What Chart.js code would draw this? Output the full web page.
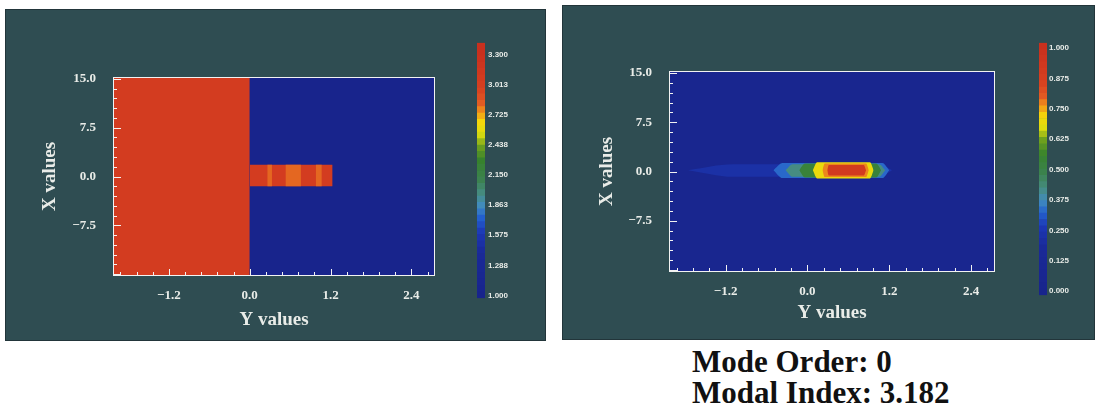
<!DOCTYPE html>
<html>
<head>
<meta charset="utf-8">
<script src="https://cdn.jsdelivr.net/npm/chart.js@4.4.1/dist/chart.umd.min.js"></script>
<style>
  body { margin: 0; background: #fff; width: 1097px; height: 419px; position: relative; overflow: hidden; }
  .panel { position: absolute; background: #2f4d52; border: 1px solid #22353a; box-sizing: border-box; }
  canvas { position: absolute; }
  .note { position: absolute; left: 692px; font: bold 31px "Liberation Serif", serif; line-height: 31px; color: #111; white-space: nowrap; }
</style>
</head>
<body>
<div class="panel" style="left:5px;top:9px;width:541px;height:332px"></div>
<div class="panel" style="left:562px;top:5px;width:533px;height:335px"></div>
<canvas id="indexMap" width="450" height="332" style="left:5px;top:9px"></canvas>
<canvas id="indexBar" width="60" height="271" style="left:477px;top:35px"></canvas>
<canvas id="modeMap" width="450" height="335" style="left:562px;top:5px"></canvas>
<canvas id="modeBar" width="55" height="266" style="left:1039px;top:36px"></canvas>
<div class="note" style="top:346px">Mode Order: 0</div>
<div class="note" style="top:377px">Modal Index: 3.182</div>

<script>
// axes (the horizontal axis is titled "Y values" in the figure)
const yValueRange = [-2.03, 2.75];
const yValueTicks = [-1.2, 0.0, 1.2, 2.4];
const yValueLabels = ["\u22121.2", "0.0", "1.2", "2.4"];
const xValueRange = [-15.3, 15.3];
const xValueTicks = [-7.5, 0.0, 7.5, 15.0];
const xValueLabels = ["\u22127.5", "0.0", "7.5", "15.0"];

// left panel: index profile as rectangles
const indexY0 = [-2.03, -2.03, 0.00, 0.26, 0.53, 0.98];
const indexY1 = [ 2.75,  0.00, 1.23, 0.33, 0.76, 1.07];
const indexX0 = [-15.3, -15.3, -1.5, -1.5, -1.5, -1.5];
const indexX1 = [ 15.3,  15.3,  1.8,  1.8,  1.8,  1.8];
const indexValue = [1.00, 3.05, 3.05, 2.82, 2.82, 2.82];
const indexScale = [1.0, 3.3];
const indexBarTicks = [1.000, 1.2875, 1.575, 1.8625, 2.150, 2.4375, 2.725, 3.0125, 3.300];
const indexBarLabels = ["1.000", "1.288", "1.575", "1.863", "2.150", "2.438", "2.725", "3.013", "3.300"];

// right panel: mode field as nested levels
const modeBackground = 0.05;
const modeLevel  = [0.22, 0.33, 0.42, 0.53, 0.70, 0.77, 0.90];
const modeLeft   = [-1.75, -0.50, -0.32, -0.12, 0.08, 0.22, 0.29];
const modeRight  = [ 1.24,  1.20,  1.14,  1.08, 0.97, 0.90, 0.86];
const modeTop    = [ 1.1,   1.3,   1.1,   1.2,  1.4,  1.2,  1.0];
const modeBottom = [-0.8,  -1.0,  -0.8,  -0.9, -1.05, -0.85, -0.6];
const modeTaper  = [0.22, 0.08, 0.07, 0.07, 0.07, 0.05, 0.04];
const modeCenter = 0.2;
const modeScale = [0.0, 1.0];
const modeBarTicks = [0.000, 0.125, 0.250, 0.375, 0.500, 0.625, 0.750, 0.875, 1.000];
const modeBarLabels = ["0.000", "0.125", "0.250", "0.375", "0.500", "0.625", "0.750", "0.875", "1.000"];

// rainbow colour table
const cmapStops = [
  [0.00, 24, 36, 140], [0.18, 26, 42, 152], [0.26, 28, 55, 180], [0.32, 35, 95, 205],
  [0.37, 65, 140, 190], [0.42, 70, 140, 130], [0.48, 60, 130, 80], [0.56, 55, 130, 45],
  [0.62, 110, 160, 30], [0.67, 220, 220, 15], [0.72, 245, 215, 10], [0.76, 240, 150, 25],
  [0.80, 225, 90, 35], [0.86, 214, 64, 32], [1.00, 200, 48, 30]
];

function cmap(f) {
  f = Math.max(0, Math.min(1, f));
  for (let i = 1; i < cmapStops.length; i++) {
    const a = cmapStops[i - 1], b = cmapStops[i];
    if (f <= b[0]) {
      const t = (f - a[0]) / (b[0] - a[0]);
      const c = [1, 2, 3].map(k => Math.round(a[k] + (b[k] - a[k]) * t));
      return `rgb(${c[0]},${c[1]},${c[2]})`;
    }
  }
  return "rgb(200,48,30)";
}

const TEXT = "#e9ece8";
const SERIF = "Liberation Serif";

// rectangle = top edge filled down to its lower value
function rectSet(h0, h1, v0, v1, color) {
  return { data: [{ x: h0, y: v1 }, { x: h1, y: v1 }], fill: { value: v0 },
    backgroundColor: color, borderColor: color, borderWidth: 0, pointRadius: 0 };
}

// closed level = upper edge filled to lower edge
function levelSets(i, color) {
  const w = modeRight[i] - modeLeft[i];
  const a = modeLeft[i] + w * modeTaper[i];
  const b = modeRight[i] - w * 0.06;
  const edge = v => [{ x: modeLeft[i], y: modeCenter }, { x: a, y: v }, { x: b, y: v }, { x: modeRight[i], y: modeCenter }];
  const common = { backgroundColor: color, borderColor: color, borderWidth: 0, pointRadius: 0, cubicInterpolationMode: "monotone" };
  return [
    { ...common, data: edge(modeTop[i]), fill: "+1" },
    { ...common, data: edge(modeBottom[i]), fill: false }
  ];
}

// white frame and inward ticks
const frameTicks = {
  id: "frameTicks",
  afterDatasetsDraw(chart) {
    const { ctx, chartArea: a, scales: { x, y } } = chart;
    ctx.save();
    ctx.strokeStyle = "#f2f2f2";
    ctx.lineWidth = 1;
    ctx.strokeRect(Math.round(a.left) + 0.5, Math.round(a.top) + 0.5, Math.round(a.width) - 1, Math.round(a.height) - 1);
    ctx.beginPath();
    for (let k = Math.ceil(x.min / 0.24 - 1e-9); k * 0.24 <= x.max; k++) {
      const px = Math.round(x.getPixelForValue(k * 0.24)) + 0.5;
      const len = k % 5 === 0 ? 6 : 3;
      ctx.moveTo(px, a.bottom - 1);
      ctx.lineTo(px, a.bottom - 1 - len);
    }
    for (let k = Math.ceil(y.min / 1.5 - 1e-9); k * 1.5 <= y.max; k++) {
      const py = Math.round(y.getPixelForValue(k * 1.5)) + 0.5;
      const len = k % 5 === 0 ? 7 : 3;
      ctx.moveTo(a.left + 1, py);
      ctx.lineTo(a.left + 1 + len, py);
    }
    ctx.stroke();
    ctx.restore();
  }
};

function heatmap(id, datasets, lay) {
  datasets.forEach((d, i) => { d.order = -i; });
  return new Chart(document.getElementById(id), {
    type: "line",
    data: { datasets },
    options: {
      responsive: false,
      animation: false,
      devicePixelRatio: 1,
      layout: { padding: { left: 20, right: lay.right, top: lay.top, bottom: 0 } },
      plugins: { legend: { display: false }, tooltip: { enabled: false } },
      scales: {
        x: {
          type: "linear", min: yValueRange[0], max: yValueRange[1],
          afterBuildTicks: s => { s.ticks = yValueTicks.map(v => ({ value: v })); },
          afterFit: s => { s.height = lay.xHeight; },
          ticks: { callback: (v, i) => yValueLabels[i], color: TEXT, font: { family: SERIF, size: 13, weight: "bold" },
            padding: 12, autoSkip: false, maxRotation: 0 },
          grid: { display: false, drawTicks: false },
          border: { display: false },
          title: { display: true, text: "Y values", color: TEXT, font: { family: SERIF, size: 19, weight: "bold" },
            padding: { top: 0, bottom: lay.xTitle } }
        },
        y: {
          type: "linear", min: xValueRange[0], max: xValueRange[1],
          afterBuildTicks: s => { s.ticks = xValueTicks.map(v => ({ value: v })); },
          afterFit: s => { s.width = lay.yWidth; },
          ticks: { callback: (v, i) => xValueLabels[i], color: TEXT, font: { family: SERIF, size: 13, weight: "bold" },
            padding: 17, autoSkip: false },
          grid: { display: false, drawTicks: false },
          border: { display: false },
          title: { display: true, text: "X values", color: TEXT, font: { family: SERIF, size: 19, weight: "bold" },
            padding: { top: lay.yTitle, bottom: 0 } }
        }
      }
    },
    plugins: [frameTicks]
  });
}

function colorbar(id, range, scale, ticks, labels, axisWidth, pad) {
  const n = 40, step = (range[1] - range[0]) / n;
  const bands = [];
  for (let i = 0; i < n; i++) {
    const a = range[0] + i * step;
    bands.push({
      data: [[a, a + step]],
      backgroundColor: cmap((a + step / 2 - scale[0]) / (scale[1] - scale[0])),
      borderWidth: 0, barPercentage: 1, categoryPercentage: 1, grouped: false
    });
  }
  return new Chart(document.getElementById(id), {
    type: "bar",
    data: { labels: [""], datasets: bands },
    options: {
      responsive: false,
      animation: false,
      devicePixelRatio: 1,
      layout: { padding: 0 },
      plugins: { legend: { display: false }, tooltip: { enabled: false } },
      scales: {
        x: { display: false },
        y: {
          position: "right", min: range[0], max: range[1],
          afterBuildTicks: s => { s.ticks = ticks.map(v => ({ value: v })); },
          afterFit: s => { s.width = axisWidth; },
          ticks: { callback: (v, i) => labels[i], color: TEXT, font: { family: "Liberation Sans", size: 8, weight: "bold" },
            padding: pad, autoSkip: false },
          grid: { display: false, drawTicks: false },
          border: { display: false }
        }
      }
    }
  });
}

// left panel
const indexNorm = v => (v - indexScale[0]) / (indexScale[1] - indexScale[0]);
const indexSets = indexValue.map((v, i) => rectSet(indexY0[i], indexY1[i], indexX0[i], indexX1[i], cmap(indexNorm(v))));
heatmap("indexMap", indexSets, { right: 20, top: 68, xHeight: 65, yWidth: 88, xTitle: 9.6, yTitle: 13.6 });
colorbar("indexBar", [0.973, 3.417], indexScale, indexBarTicks, indexBarLabels, 52, 3);

// right panel
const modeSets = [rectSet(yValueRange[0], yValueRange[1], xValueRange[0], xValueRange[1], cmap(modeBackground))];
modeLevel.forEach((v, i) => modeSets.push(...levelSets(i, cmap(v))));
heatmap("modeMap", modeSets, { right: 17, top: 66, xHeight: 68, yWidth: 87, xTitle: 15.3, yTitle: 13.3 });
colorbar("modeBar", [-0.017, 1.022], modeScale, modeBarTicks, modeBarLabels, 47, 2);
</script>
</body>
</html>
